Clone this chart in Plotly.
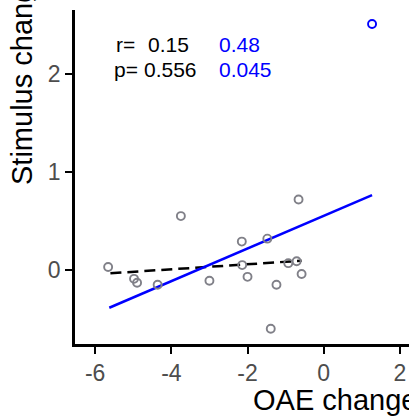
import plotly.graph_objects as go

# Grey points (excluding outlier)
grey_x = [-5.66, -4.98, -4.90, -4.36, -3.75, -3.00, -2.15, -2.14, -2.00, -1.48,
          -1.24, -1.39, -0.93, -0.71, -0.66, -0.58]
grey_y = [0.03, -0.09, -0.13, -0.15, 0.55, -0.11, 0.29, 0.05, -0.07, 0.32,
          -0.15, -0.60, 0.07, 0.09, 0.72, -0.04]
# Blue outlier point
blue_x = [1.27]
blue_y = [2.51]
# Fitted lines
fit_black_x = [-5.60, -0.58]
fit_black_y = [-0.034, 0.095]
fit_blue_x = [-5.63, 1.27]
fit_blue_y = [-0.385, 0.765]

stats_r = ["0.15", "0.48"]
stats_p = ["0.556", "0.045"]

FONT = "Liberation Sans, Arial, Helvetica, sans-serif"
L, T, R, B = 75, 10, 0, 74
W, H = 409, 418
PW = W - L - R
PH = H - T - B

def px(x):
    return (x - L) / PW

def py(y):
    return (H - B - y) / PH

fig = go.Figure()
fig.add_trace(go.Scatter(x=fit_black_x, y=fit_black_y, mode="lines",
                         line=dict(color="black", width=2.5, dash="11px,6px"),
                         showlegend=False, hoverinfo="skip"))
fig.add_trace(go.Scatter(x=fit_blue_x, y=fit_blue_y, mode="lines",
                         line=dict(color="#0000FF", width=2.5),
                         showlegend=False, hoverinfo="skip"))
fig.add_trace(go.Scatter(x=grey_x, y=grey_y, mode="markers",
                         marker=dict(symbol="circle-open", size=8, color="#808088",
                                     line=dict(width=1.9, color="#808088")),
                         showlegend=False))
fig.add_trace(go.Scatter(x=blue_x, y=blue_y, mode="markers",
                         marker=dict(symbol="circle-open", size=8, color="#0000FF",
                                     line=dict(width=1.9, color="#0000FF")),
                         showlegend=False))

ann = []
def txt(s, x, y, color="black", size=21, xanchor="left", yanchor="middle", angle=0):
    ann.append(dict(text=s, x=px(x), y=py(y), xref="paper", yref="paper",
                    xanchor=xanchor, yanchor=yanchor, showarrow=False,
                    textangle=angle, font=dict(family=FONT, size=size, color=color)))

txt("r=", 114, 44)
txt(stats_r[0], 146, 44)
txt(stats_r[1], 217, 44, color="#0000FF")
txt("p=", 112, 69)
txt(stats_p[0], 142, 69)
txt(stats_p[1], 217, 69, color="#0000FF")
txt("Stimulus change", 22, 187, size=29, xanchor="center", yanchor="bottom", angle=-90)
txt("OAE change", 251, 400, size=29, xanchor="left", yanchor="middle")

fig.update_layout(
    width=W, height=H,
    margin=dict(l=L, r=R, t=T, b=B, pad=0),
    plot_bgcolor="white", paper_bgcolor="white",
    annotations=ann,
    font=dict(family=FONT),
    xaxis=dict(range=[-6.53, 2.24], tickvals=[-6, -4, -2, 0, 2],
               ticktext=["-6", "-4", "-2", "0", "2"],
               showline=True, linecolor="black", linewidth=2.6,
               ticks="outside", ticklen=7, tickwidth=2.2, tickcolor="black",
               tickfont=dict(size=23, color="#4D4D4D", family=FONT),
               showgrid=False, zeroline=False),
    yaxis=dict(range=[-0.755, 2.653], tickvals=[0, 1, 2],
               ticktext=["0", "1", "2"],
               showline=True, linecolor="black", linewidth=2.6,
               ticks="outside", ticklen=7, tickwidth=2.2, tickcolor="black",
               tickfont=dict(size=23, color="#4D4D4D", family=FONT),
               showgrid=False, zeroline=False),
)

fig.write_html("out.html")
